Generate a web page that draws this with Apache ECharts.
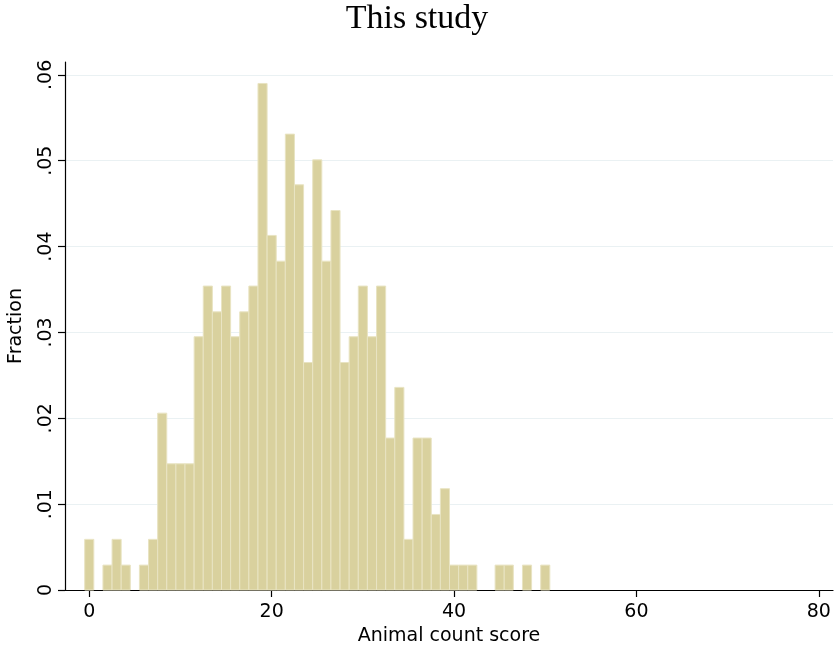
<!DOCTYPE html>
<html>
<head>
<meta charset="utf-8">
<script src="https://cdn.jsdelivr.net/npm/echarts@6/dist/echarts.min.js"></script>
<style>
  html, body { margin: 0; padding: 0; background: #fff; }
  #histo { width: 834px; height: 649px; }
</style>
</head>
<body>
<div id="histo"></div>
<script>
// animal count score (bin centre, width 1)
const scores = [0,1,2,3,4,5,6,7,8,9,10,11,12,13,14,15,16,17,18,19,20,21,22,23,24,25,
  26,27,28,29,30,31,32,33,34,35,36,37,38,39,40,41,42,43,44,45,46,47,48,49,50];
// fraction of observations in each bin
const fractions = [.0059,0,.0029,.0059,.0029,0,.0029,.0059,.0206,.0147,.0147,.0147,.0295,.0354,.0324,.0354,
  .0295,.0324,.0354,.0590,.0413,.0383,.0531,.0472,.0265,.0501,.0383,.0442,.0265,.0295,.0354,.0295,
  .0354,.0177,.0236,.0059,.0177,.0177,.0088,.0118,.0029,.0029,.0029,0,0,.0029,.0029,0,.0029,0,.0029];
const xTicks = [0, 20, 40, 60, 80];
const yTicks = [0, 0.01, 0.02, 0.03, 0.04, 0.05, 0.06];

const chart = echarts.init(document.getElementById('histo'));

const binData = scores.map((s, i) => [s, fractions[i]]);
const sans = 'DejaVu Sans';

const option = {
  animation: false,
  title: {
    text: 'This study',
    left: 'center',
    top: -3,
    textStyle: { fontFamily: 'Liberation Serif', fontSize: 34, fontWeight: 'normal', color: '#000' }
  },
  grid: { left: 65, right: 1, top: 62, bottom: 59, containLabel: false, outerBoundsMode: 'none' },
  xAxis: {
    type: 'value',
    min: -2.66,
    max: 81.55,
    name: 'Animal count score',
    nameLocation: 'middle',
    nameGap: 36,
    nameTextStyle: { fontFamily: sans, fontSize: 19, color: '#000' },
    axisLine: { show: true, onZero: false, lineStyle: { color: '#000', width: 1.2 } },
    axisTick: { show: true, length: 7, customValues: xTicks, lineStyle: { color: '#000', width: 1.2 } },
    axisLabel: { customValues: xTicks, margin: 13, fontFamily: sans, fontSize: 19, color: '#000' },
    splitLine: { show: false }
  },
  yAxis: {
    type: 'value',
    min: 0,
    max: 0.0615,
    name: 'Fraction',
    nameLocation: 'middle',
    nameGap: 39,
    nameTextStyle: { fontFamily: sans, fontSize: 19, color: '#000' },
    axisLine: { show: true, onZero: false, lineStyle: { color: '#000', width: 1.2 } },
    axisTick: { show: true, length: 7, customValues: yTicks, lineStyle: { color: '#000', width: 1.2 } },
    axisLabel: {
      customValues: yTicks,
      rotate: 90,
      margin: 9,
      fontFamily: sans,
      fontSize: 19,
      color: '#000',
      formatter: v => (v === 0 ? '0' : v.toFixed(2).replace(/^0/, ''))
    },
    splitLine: { show: true, lineStyle: { color: '#eaf1f3', width: 1 } }
  },
  series: [{
    type: 'custom',
    data: binData,
    renderItem(params, api) {
      const x = api.value(0);
      const y = api.value(1);
      if (!y) return null;
      const topLeft = api.coord([x - 0.5, y]);
      const botRight = api.coord([x + 0.5, 0]);
      return {
        type: 'rect',
        shape: { x: topLeft[0], y: topLeft[1], width: botRight[0] - topLeft[0], height: botRight[1] - topLeft[1] },
        style: { fill: '#d9d19e', stroke: '#e9e4c3', lineWidth: 1 }
      };
    }
  }]
};

chart.setOption(option);
</script>
</body>
</html>
